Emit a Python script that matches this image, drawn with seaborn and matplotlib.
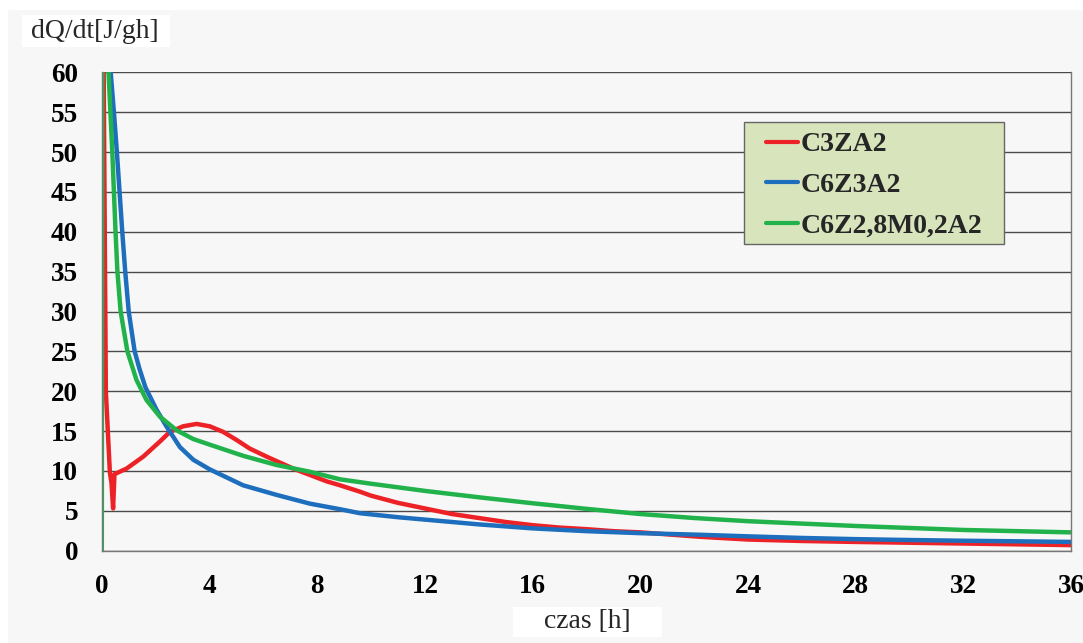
import matplotlib
matplotlib.use("Agg")
import matplotlib.pyplot as plt
from matplotlib.patches import Rectangle
import pandas as pd
import seaborn as sns

# C3ZA2
red_x = [0.05, 0.07, 0.15, 0.3, 0.36, 0.42, 0.47, 0.6, 0.92, 1.54, 2.16, 2.53, 3.02,
         3.52, 4.01, 4.51, 5.0, 5.5, 6.12, 7.11, 8.35, 8.85, 9.59, 10, 11, 12, 13, 14,
         15, 16, 17, 18, 19, 20, 22.2, 24, 26, 28, 30, 32, 34, 36]
red_y = [90, 60, 20, 9.8, 8.5, 5.3, 9.6, 9.8, 10.3, 11.8, 13.7, 14.9, 15.6, 15.9,
         15.6, 14.9, 13.9, 12.8, 11.8, 10.3, 8.7, 8.2, 7.4, 6.9, 6.0, 5.3, 4.6, 4.1,
         3.6, 3.2, 2.9, 2.7, 2.45, 2.3, 1.75, 1.4, 1.22, 1.1, 1.0, 0.9, 0.8, 0.7]

# C6Z3A2
blue_x = [0.2, 0.33, 0.45, 0.56, 0.66, 0.76, 0.87, 1.0, 1.22, 1.4, 1.62, 2.03, 2.4,
          2.9, 3.4, 4.01, 5.25, 6.49, 7.73, 8.85, 9.59, 11, 12, 14, 16, 18, 20, 22.2,
          24, 26, 28, 30, 32, 34, 36]
blue_y = [80, 60, 55, 50, 45, 40, 35, 30, 25, 22.8, 20.5, 17.7, 15.6, 13.0, 11.4,
          10.2, 8.2, 7.0, 5.9, 5.2, 4.7, 4.2, 3.9, 3.3, 2.8, 2.45, 2.2, 2.0, 1.8,
          1.6, 1.45, 1.34, 1.25, 1.18, 1.1]

# C6Z2,8M0,2A2
green_x = [0.0, 0.02, 0.1, 0.25, 0.32, 0.39, 0.45, 0.51, 0.58, 0.7, 0.95, 1.29, 1.66,
           2.16, 2.78, 3.4, 4.01, 5.25, 6.49, 7.73, 8.85, 10, 12, 14, 16, 18, 20,
           22, 24, 26, 28, 30, 32, 34, 36]
green_y = [0, 60, 90, 60, 55, 50, 45, 40, 35, 30, 25, 21.4, 18.9, 16.8, 15.1, 14.0,
           13.3, 11.9, 10.75, 9.9, 8.95, 8.4, 7.5, 6.7, 5.95, 5.25, 4.6, 4.1, 3.7,
           3.4, 3.1, 2.85, 2.6, 2.45, 2.3]

labels = ["C3ZA2", "C6Z3A2", "C6Z2,8M0,2A2"]
colors = ["#ec2227", "#1e6ebe", "#21b24b"]
x_ticks = list(range(0, 37, 4))
y_ticks = list(range(0, 61, 5))

df = pd.concat([
    pd.DataFrame({"t": red_x, "q": red_y, "s": labels[0]}),
    pd.DataFrame({"t": blue_x, "q": blue_y, "s": labels[1]}),
    pd.DataFrame({"t": green_x, "q": green_y, "s": labels[2]}),
])

sns.set_theme(style="white")
plt.rcParams["font.family"] = ["Liberation Serif", "DejaVu Serif"]
bg = "#f7f7f7"
W, H = 1083, 643

fig = plt.figure(figsize=(W / 100, H / 100), dpi=100, facecolor="white")
fig.patches.append(Rectangle((8 / W, 0), 1, 1 - 10 / H, transform=fig.transFigure,
                             facecolor=bg, edgecolor="none", zorder=-10))
ax = fig.add_axes([101.8 / W, 1 - 550.7 / H, 969.3 / W, 478.4 / H])
ax.set_facecolor(bg)

sns.lineplot(data=df, x="t", y="q", hue="s", palette=colors, sort=False,
             estimator=None, linewidth=3.2, ax=ax, legend=False)

ax.set_xlim(0, 36)
ax.set_ylim(0, 60)
ax.set_xticks(x_ticks)
ax.set_yticks(y_ticks)
ax.set_xticklabels([str(v) for v in x_ticks], fontsize=19.5, fontweight="bold")
ax.set_yticklabels([str(v) for v in y_ticks], fontsize=19.5, fontweight="bold")
ax.yaxis.grid(True, color="#4a4a4a", linewidth=1.0)
ax.xaxis.grid(False)
ax.set_axisbelow(True)
ax.tick_params(axis="x", direction="out", length=6, width=1, color="#777777", pad=11,
               labelcolor="black")
ax.tick_params(axis="y", direction="out", length=6.5, width=1, color="#bbbbbb", pad=10.5,
               labelcolor="black")
for side in ["left", "right", "bottom"]:
    ax.spines[side].set_color("#777777")
    ax.spines[side].set_linewidth(1)
ax.spines["top"].set_visible(False)
ax.set_xlabel("")
ax.set_ylabel("")

# white label boxes
for (x0, y0, x1, y1) in [(22, 15, 170, 47), (513, 607, 662, 637)]:
    fig.patches.append(Rectangle((x0 / W, 1 - y1 / H), (x1 - x0) / W, (y1 - y0) / H,
                                 transform=fig.transFigure, facecolor="white",
                                 edgecolor="none", zorder=-5))
fig.text(95 / W, 1 - 31 / H, "dQ/dt[J/gh]", fontsize=20, ha="center", va="center")
fig.text(587 / W, 1 - 621 / H, "czas [h]", fontsize=20, ha="center", va="center")

# legend box
ax.add_patch(Rectangle(((744 - 101.8) / 969.3, (550.7 - 244) / 478.4), 260 / 969.3,
                       122 / 478.4, transform=ax.transAxes, facecolor="#d8e4bc",
                       edgecolor="#666666", linewidth=1, zorder=5))
handles = [plt.Line2D([], [], color=c, linewidth=3) for c in colors]
leg = ax.legend(handles, labels, loc="upper left",
                bbox_to_anchor=((766 - 101.8) / 969.3, (550.7 - 132) / 478.4),
                frameon=False, handlelength=1.15, handletextpad=0.1,
                labelspacing=0.55, borderpad=0, borderaxespad=0,
                prop={"family": "Liberation Serif", "weight": "bold", "size": 20})
leg.set_zorder(6)

fig.savefig("out.png", dpi=100, facecolor=fig.get_facecolor())
